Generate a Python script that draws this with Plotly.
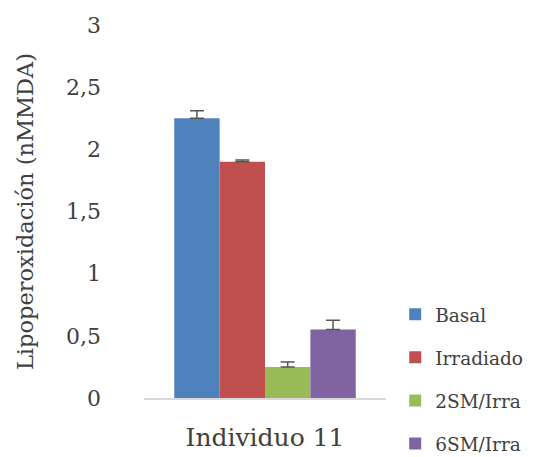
import plotly.graph_objects as go

category = ["Individuo 11"]
series_names = ["Basal", "Irradiado", "2SM/Irra", "6SM/Irra"]
values = [2.25, 1.90, 0.25, 0.55]
errors = [0.06, 0.015, 0.04, 0.075]
colors = ["#4F81BD", "#C0504D", "#9BBB59", "#8064A2"]
y_ticks = [0, 0.5, 1, 1.5, 2, 2.5, 3]

FONT = "DejaVu Serif"
TXT = "#404040"

fig = go.Figure()
for name, v, e, c in zip(series_names, values, errors, colors):
    fig.add_trace(go.Bar(
        x=category, y=[v], name=name, legendgroup=name,
        marker=dict(color=c, line=dict(width=0)),
        error_y=dict(type="data", array=[e], symmetric=False, arrayminus=[0],
                     color="#555555", thickness=1.5, width=7),
    ))

fig.update_layout(
    width=529, height=449,
    margin=dict(l=136, r=151, t=17, b=59, autoexpand=False),
    paper_bgcolor="white", plot_bgcolor="white",
    separators=",.",
    barmode="group", bargap=0.25, bargroupgap=0,
    font=dict(family=FONT, color=TXT),
    showlegend=True,
    legend=dict(x=1.038, xanchor="left", y=0.274, yanchor="top",
                font=dict(family=FONT, size=18.5, color=TXT),
                tracegroupgap=16, itemsizing="constant",
                bgcolor="rgba(0,0,0,0)"),
    xaxis=dict(showline=True, linecolor="#d9d9d9", linewidth=1.5,
               ticks="", showgrid=False, zeroline=False,
               tickfont=dict(family=FONT, size=25, color=TXT),
               ticklabelstandoff=16, automargin=False),
    yaxis=dict(range=[0, 3], tickvals=y_ticks, showgrid=False, zeroline=False,
               showline=False, ticks="",
               tickfont=dict(family=FONT, size=22, color=TXT),
               ticklabelstandoff=42, automargin=False,
               title=dict(text="Lipoperoxidación (nMMDA)",
                          font=dict(family=FONT, size=22.5, color=TXT),
                          standoff=26)),
)

fig.write_html("out.html")
